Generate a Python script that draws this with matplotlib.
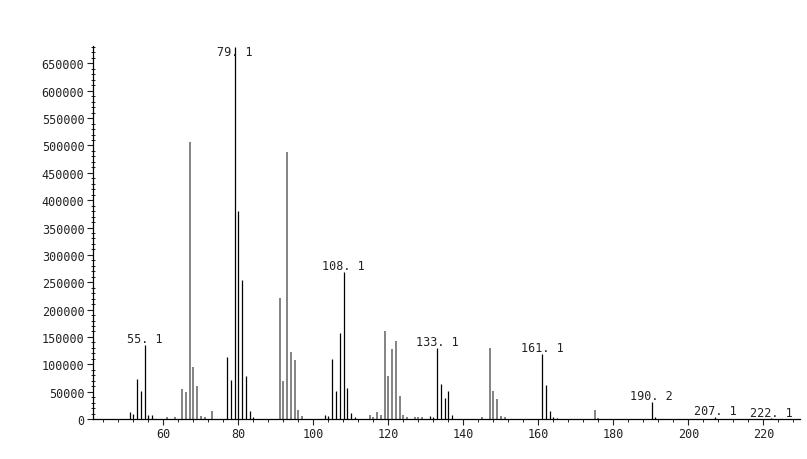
import matplotlib
matplotlib.use("Agg")
import matplotlib.pyplot as plt
from matplotlib.ticker import MultipleLocator
import numpy as np

# m/z values and abundances
mz_dark = [51, 52, 53, 54, 55.1, 56, 57,
           77, 78, 79.1, 80, 81, 82, 83, 84,
           103, 104, 105, 106, 107, 108.1, 109, 110, 111,
           131, 132, 133.1, 134, 135, 136, 137,
           161.1, 162, 163, 164, 165,
           190.2, 191, 207.1, 222.1]
ab_dark = [12800, 9000, 72500, 51700, 135000, 7000, 7000,
           112800, 72000, 680000, 380000, 254000, 79000, 14600, 3000,
           7000, 5000, 110000, 50600, 157000, 269000, 57000, 11000, 3500,
           5000, 3000, 130000, 63400, 39000, 50600, 7300,
           119000, 62000, 15000, 3000, 2000,
           30500, 4000, 3000, 1500]

mz_grey = [61, 63, 65, 66, 67, 68, 69, 70, 71, 73,
           91, 92, 93, 94, 95, 96, 97,
           115, 116, 117, 118, 119, 120, 121, 122, 123, 124, 125,
           127, 128, 129,
           145, 147, 148, 149, 150, 151,
           175, 176]
ab_grey = [4000, 4000, 55000, 50000, 507000, 94500, 61000, 5000, 3000, 14600,
           221000, 69000, 488000, 122500, 108000, 17000, 5500,
           7000, 3500, 12800, 7300, 161000, 78000, 128000, 142000, 42600, 7000, 3500,
           3000, 3000, 3000,
           3000, 129000, 51700, 37000, 5000, 3000,
           16000, 2000]

labels = ["55. 1", "79. 1", "108. 1", "133. 1", "161. 1", "190. 2", "207. 1", "222. 1"]
label_mz = [55.1, 79.1, 108.1, 133.1, 161.1, 190.2, 207.1, 222.1]
label_ab = [135000, 672000, 269000, 130000, 119000, 30500, 3000, 500]

fig = plt.figure(figsize=(8.07, 4.60), dpi=100)
ax = fig.add_axes([0.115, 0.087, 0.876, 0.811])

ax.vlines(mz_grey, 0, ab_grey, colors="#7a7a7a", linewidth=1.3)
ax.vlines(mz_dark, 0, ab_dark, colors="black", linewidth=0.9)

for txt, x, y in zip(labels, label_mz, label_ab):
    va = "center" if txt == "79. 1" else "bottom"
    ax.text(x, y, txt, ha="center", va=va, fontsize=8.5,
            family="DejaVu Sans Mono", color="#222222")

ax.set_xlim(41.2, 229.7)
ax.set_ylim(0, 682000)

ax.xaxis.set_major_locator(MultipleLocator(20))
ax.xaxis.set_minor_locator(MultipleLocator(4))
ax.yaxis.set_major_locator(MultipleLocator(50000))
ax.yaxis.set_minor_locator(MultipleLocator(10000))
ax.set_xticks(np.arange(60, 221, 20))

for side in ["top", "right"]:
    ax.spines[side].set_visible(False)
ax.spines["left"].set_linewidth(0.9)
ax.spines["bottom"].set_linewidth(0.9)

ax.tick_params(axis="both", which="major", length=4, width=0.8,
               labelsize=8.5, colors="#222222", pad=2)
ax.tick_params(axis="both", which="minor", length=2, width=0.6)
ax.tick_params(axis="y", which="minor", direction="inout", length=3)
for lab in ax.get_xticklabels() + ax.get_yticklabels():
    lab.set_family("DejaVu Sans Mono")

fig.savefig("out.png", dpi=100)
